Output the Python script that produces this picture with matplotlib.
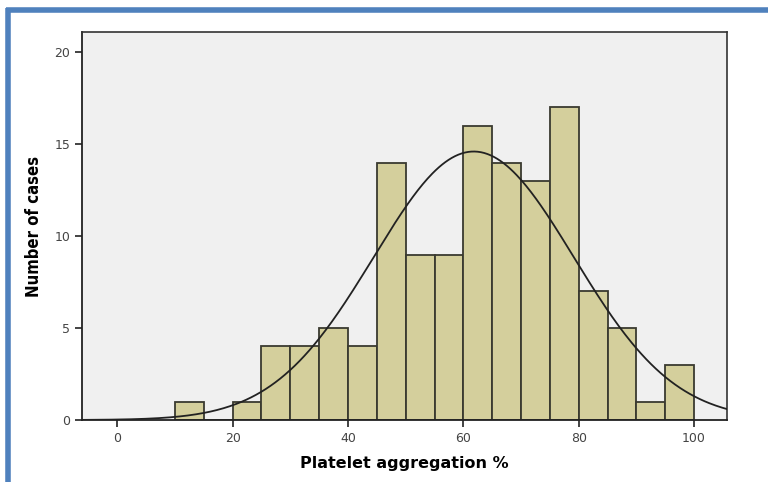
import numpy as np
import matplotlib
matplotlib.use("Agg")
import matplotlib.pyplot as plt
from matplotlib.lines import Line2D

# histogram of platelet aggregation, bins of 5 from 10 to 100
bin_edges = [10, 15, 20, 25, 30, 35, 40, 45, 50, 55, 60, 65, 70, 75, 80, 85, 90, 95, 100]
counts = [1, 0, 1, 4, 4, 5, 4, 14, 9, 9, 16, 14, 13, 17, 7, 5, 1, 3]
mean_val = 61.8
sd_val = 17.35
x_ticks = [0, 20, 40, 60, 80, 100]
y_ticks = [0, 5, 10, 15, 20]

fig = plt.figure(figsize=(7.68, 4.82), dpi=100)
fig.patch.set_facecolor("white")

# blue frame around the figure (top and left edges)
fig.add_artist(Line2D([0.008, 1.0], [0.979, 0.979], color="#4F81BD", lw=4,
                      solid_capstyle="butt", transform=fig.transFigure))
fig.add_artist(Line2D([0.010, 0.010], [0.0, 0.983], color="#4F81BD", lw=4,
                      solid_capstyle="butt", transform=fig.transFigure))

ax = fig.add_axes([0.1068, 0.1286, 0.8398, 0.805])
ax.set_facecolor("#F0F0F0")

widths = np.diff(bin_edges)
ax.bar(bin_edges[:-1], counts, width=widths, align="edge",
       color="#D4CF9C", edgecolor="#3A3A30", linewidth=1.3, zorder=2)

# fitted normal curve scaled to counts
n_total = sum(counts)
bw = 5
xs = np.linspace(-6, 106, 400)
ys = n_total * bw / (sd_val * np.sqrt(2 * np.pi)) * np.exp(-(xs - mean_val) ** 2 / (2 * sd_val ** 2))
ax.plot(xs, ys, color="#222222", lw=1.3, zorder=3)

ax.set_xlim(-6.1, 105.7)
ax.set_ylim(0, 21.1)
ax.set_xticks(x_ticks)
ax.set_yticks(y_ticks)
ax.tick_params(axis="both", direction="out", length=5, width=1.2, color="#222222",
               labelsize=9, labelcolor="#444444")

for side in ["left", "bottom"]:
    ax.spines[side].set_color("#222222")
    ax.spines[side].set_linewidth(1.3)
for side in ["top", "right"]:
    ax.spines[side].set_color("#333333")
    ax.spines[side].set_linewidth(1.2)

ax.set_ylabel("Number of cases", fontsize=12, fontweight="bold",
              family=["Liberation Sans Narrow", "DejaVu Sans Condensed", "DejaVu Sans"],
              fontstretch="condensed", labelpad=8)
ax.set_xlabel("Platelet aggregation %", fontsize=11.5, fontweight="bold", labelpad=8)

fig.savefig("out.png", dpi=100)
